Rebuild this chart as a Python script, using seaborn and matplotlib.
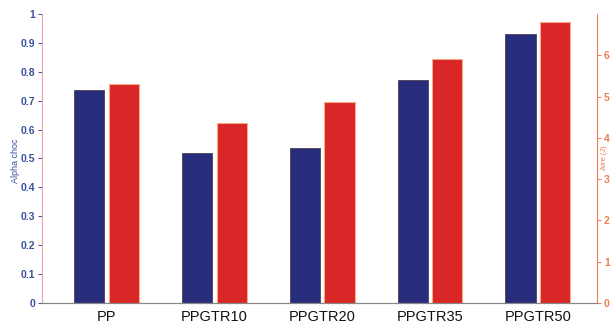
import pandas as pd
import numpy as np
import matplotlib
matplotlib.use("Agg")
import matplotlib.pyplot as plt
from matplotlib.ticker import FormatStrFormatter
import seaborn as sns

# data
materials = ["PP", "PPGTR10", "PPGTR20", "PPGTR35", "PPGTR50"]
alpha_choc = [0.737, 0.520, 0.536, 0.772, 0.930]
aire = [5.30, 4.37, 4.86, 5.92, 6.81]

series = ["Alpha choc", "Aire (J)"]

sns.set_style("white")
plt.rcParams["font.family"] = ["Liberation Sans", "DejaVu Sans"]

blue = "#272C7B"
red = "#D92626"
blue_txt = "#3B4FA0"
red_txt = "#F07B55"

# long tables, one for each axis; the other series is left empty so that
# the dodge slots stay reserved
left_df = pd.DataFrame({"mat": materials * 2,
                        "serie": [series[0]] * 5 + [series[1]] * 5,
                        "val": alpha_choc + [np.nan] * 5})
right_df = pd.DataFrame({"mat": materials * 2,
                         "serie": [series[0]] * 5 + [series[1]] * 5,
                         "val": [np.nan] * 5 + aire})

fig = plt.figure(figsize=(6.12, 3.27), dpi=100)
ax = fig.add_axes([0.0686, 0.0734, 0.907, 0.884])
ax2 = ax.twinx()

sns.barplot(data=left_df, x="mat", y="val", hue="serie", hue_order=series,
            order=materials, palette=[blue, red], saturation=1,
            width=0.64, gap=0.125,
            edgecolor="#4A4050", linewidth=0.6, legend=False, ax=ax)
sns.barplot(data=right_df, x="mat", y="val", hue="serie", hue_order=series,
            order=materials, palette=[blue, red], saturation=1,
            width=0.64, gap=0.125,
            edgecolor="#F6A888", linewidth=0.8, legend=False, ax=ax2)

ax.set_xlim(-0.6, 4.55)
ax.set_ylim(0, 1)
ax2.set_ylim(0, 7)
ax.set_yticks(np.arange(0, 1.01, 0.1))
ax.yaxis.set_major_formatter(FormatStrFormatter("%g"))
ax2.set_yticks(range(0, 7))

ax.set_xlabel("")
ax2.set_xlabel("")
ax.set_ylabel("")
ax2.set_ylabel("")
# axis titles placed by hand, as in the original
fig.text(15 / 612, 1 - 161 / 327, "Alpha choc", color=blue_txt, fontsize=6.5,
         rotation=90, ha="center", va="center")
# right label sits between the tick labels 3 and 4, close to the edge
fig.text(605 / 612, 1 - 158 / 327, "Aire (J)", color=red_txt, fontsize=5.5,
         rotation=90, ha="center", va="center")

ax.tick_params(axis="x", length=0, labelsize=10.5, colors="#111111", pad=5)
ax.tick_params(axis="y", length=3, width=0.7, colors=blue_txt, labelsize=7.5, direction="out", pad=2)
ax2.tick_params(axis="y", length=3, width=0.7, colors=red_txt, labelsize=7.5, direction="out", pad=2)
for t in ax.get_yticklabels() + ax2.get_yticklabels():
    t.set_fontweight("bold")

for a in (ax, ax2):
    a.spines["top"].set_visible(False)
    a.spines["bottom"].set_color("#888888")
ax.spines["left"].set_color("#E8A0B0")
ax.spines["right"].set_visible(False)
ax2.spines["left"].set_visible(False)
ax2.spines["right"].set_color(red_txt)

fig.savefig("out.png", dpi=100)
